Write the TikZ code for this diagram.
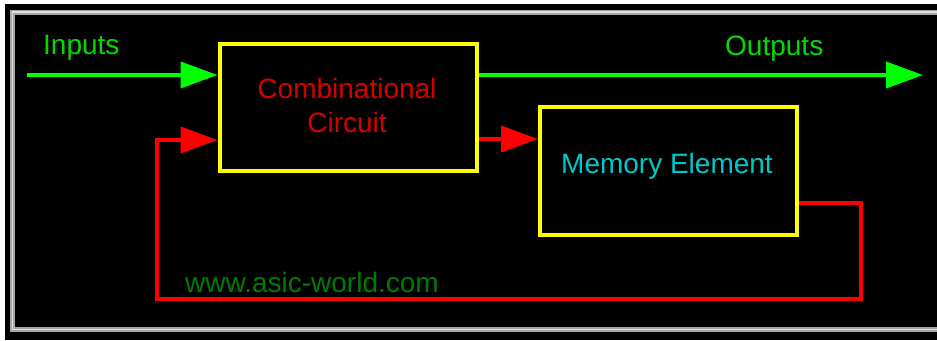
\documentclass[tikz,border=0pt]{standalone}
\usepackage{fontspec}
\setmainfont{Liberation Sans}
\usetikzlibrary{arrows.meta}
\definecolor{brightgreen}{RGB}{0,255,0}
\definecolor{textgreen}{RGB}{0,220,0}
\definecolor{darkgreen}{RGB}{0,125,0}
\definecolor{textred}{RGB}{215,0,0}
\definecolor{cyantext}{RGB}{0,200,200}
\definecolor{frameyellow}{RGB}{255,255,0}
\tikzset{
  blockbox/.style={draw=frameyellow, line width=4pt, minimum width=257pt, minimum height=127pt, inner sep=0pt},
  lbl/.style={font=\fontsize{28}{34}\selectfont, inner sep=0pt, anchor=base},
  greenwire/.style={draw=brightgreen, line width=4pt, -{Triangle[length=37pt,width=26pt]}},
  redwire/.style={draw=red, line width=4pt},
  redarrow/.style={redwire, -{Triangle[length=37pt,width=26pt]}},
}
\begin{document}
\begin{tikzpicture}[x=1pt,y=-1pt]
\useasboundingbox (0,0) rectangle (937,340);
\fill[white] (0,0) rectangle (937,340);
\fill[black] (5,4) rectangle (937,340);
\begin{scope}
\clip (0,0) rectangle (937,340);
\draw[gray!70, line width=5pt] (12.5,12) rectangle (950,329.5);
\draw[gray!25, line width=1.5pt] (12.5,12) rectangle (950,329.5);
\end{scope}

\node[blockbox] (comb) at (348,107.5) {};
\node[blockbox, minimum height=128pt] (mem) at (668.5,171) {};

\node[lbl, text=textred] (combt1) at (347,98) {Combinational};
\node[lbl, text=textred] (combt2) at (347,132) {Circuit};
\node[lbl, text=cyantext] (memt) at (667,173) {Memory Element};
\node[lbl, anchor=base west, text=textgreen] (inl) at (43,54) {Inputs};
\node[lbl, anchor=base west, text=textgreen] (outl) at (725,55) {Outputs};
\node[lbl, anchor=base west, text=darkgreen] (web) at (185,292) {www.asic-world.com};

\coordinate (inp) at (27,75);
\coordinate (outp) at (923,75);
\coordinate (mid) at (0,139);
\coordinate (fbout) at (0,203);
\coordinate (fbr) at (861,203);
\coordinate (fbbr) at (861,299);
\coordinate (fbbl) at (157,299);
\coordinate (fbtl) at (157,140);

\draw[greenwire] (inp) -- (comb.west |- inp);
\draw[greenwire] (comb.east |- inp) -- (outp);
\draw[redarrow] (comb.east |- mid) -- (mem.west |- mid);
\draw[redarrow, line join=miter] (mem.east |- fbout) -- (fbr) -- (fbbr) -- (fbbl) -- (fbtl) -- (comb.west |- fbtl);
\end{tikzpicture}
\end{document}
